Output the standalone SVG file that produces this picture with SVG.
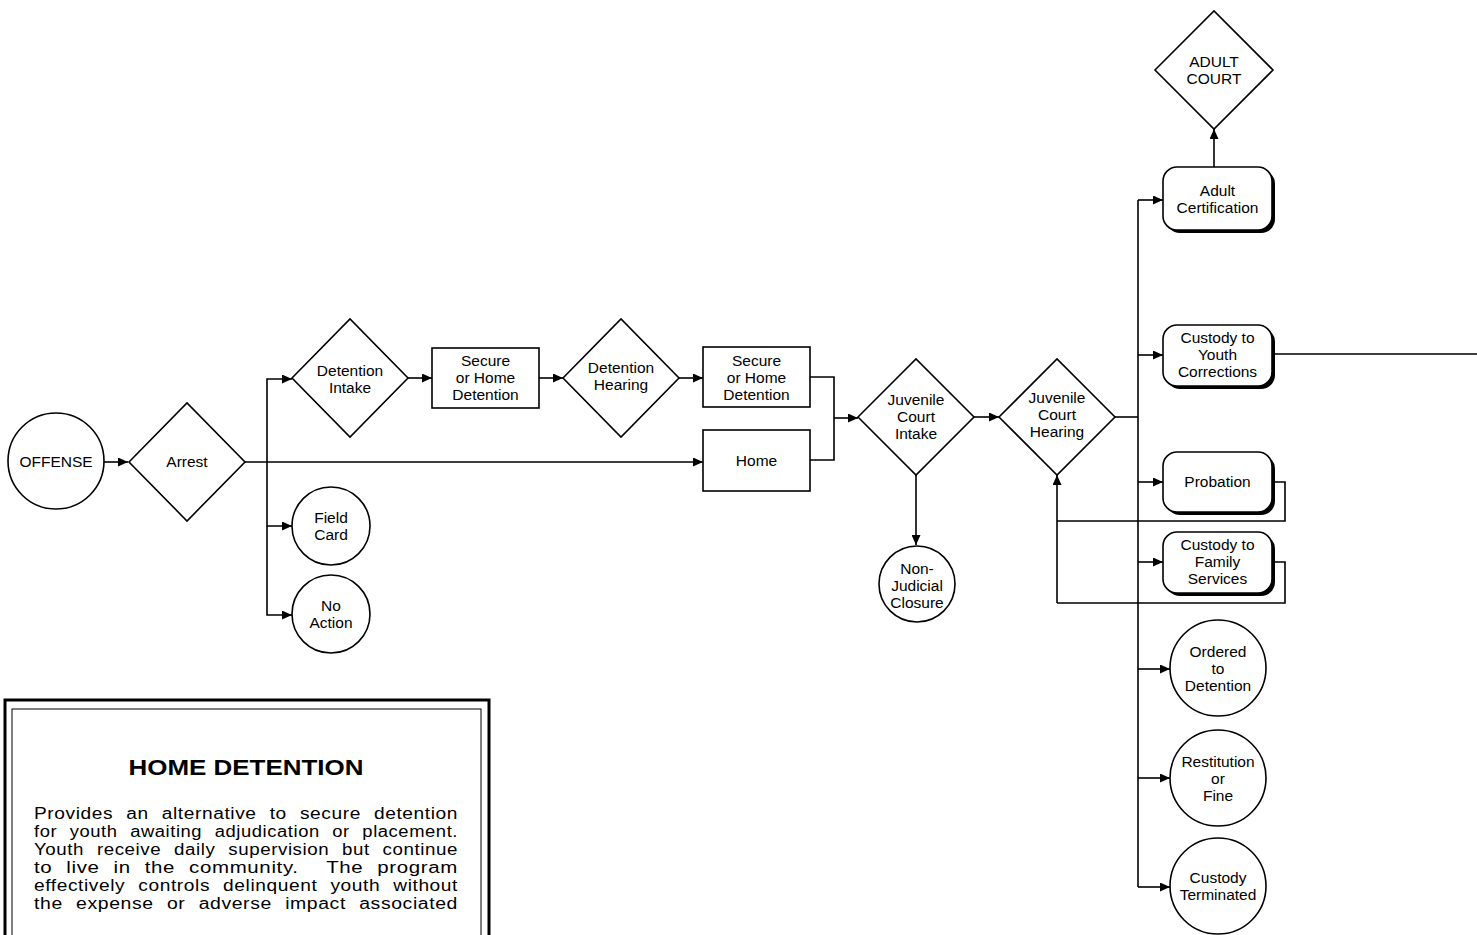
<svg xmlns="http://www.w3.org/2000/svg" width="1477" height="935" viewBox="0 0 1477 935">
<defs>
<marker id="ah" markerUnits="userSpaceOnUse" markerWidth="11" markerHeight="9" refX="10" refY="4.5" orient="auto">
<path d="M0,0 L10,4.5 L0,9 z" fill="#000"/>
</marker>
<style>
.shape{fill:#fff;stroke:#000;stroke-width:1.6}
.shadow{fill:#000;stroke:none}
.conn{fill:none;stroke:#000;stroke-width:1.6}
.arr{marker-end:url(#ah)}
text{font-family:"Liberation Sans",Arial,Helvetica,sans-serif;fill:#000}
.lbl{font-size:15.5px;text-anchor:middle}
.title{font-size:22px;font-weight:bold;text-anchor:middle}
.body{font-size:16px;letter-spacing:0.5px;word-spacing:6px}
</style>
</defs>
<rect width="1477" height="935" fill="#fff"/>

<g id="connectors">
<path class="conn arr" d="M104,462 H128"/>
<path class="conn arr" d="M245,462 H703"/>
<path class="conn arr" d="M267,462 V379 H292"/>
<path class="conn arr" d="M267,462 V526 H292"/>
<path class="conn arr" d="M267,526 V615 H292"/>
<path class="conn arr" d="M408,378 H432"/>
<path class="conn arr" d="M539,378 H563"/>
<path class="conn arr" d="M679,378 H703"/>
<path class="conn" d="M810,377 H834 V460 H810"/>
<path class="conn arr" d="M834,418 H858"/>
<path class="conn arr" d="M916,475 V545"/>
<path class="conn arr" d="M974,417 H999"/>
<path class="conn" d="M1115,417 H1138"/>
<path class="conn" d="M1138,200 V887"/>
<path class="conn arr" d="M1138,200 H1163"/>
<path class="conn arr" d="M1138,355 H1163"/>
<path class="conn arr" d="M1138,482 H1163"/>
<path class="conn arr" d="M1138,562 H1163"/>
<path class="conn arr" d="M1138,669 H1170"/>
<path class="conn arr" d="M1138,778 H1170"/>
<path class="conn arr" d="M1138,887 H1170"/>
<path class="conn arr" d="M1214,167 V129"/>
<path class="conn" d="M1275,354 H1477"/>
<path class="conn" d="M1275,482 H1285 V521 H1057"/>
<path class="conn" d="M1275,562 H1285 V603 H1057"/>
<path class="conn arr" d="M1057,603 V475"/>
</g>

<g id="offense">
<circle class="shape" cx="56" cy="461" r="48"/>
<text class="lbl" x="56" y="467">OFFENSE</text>
</g>
<g id="arrest">
<polygon class="shape" points="129,462 187,403 245,462 187,521"/>
<text class="lbl" x="187" y="467">Arrest</text>
</g>
<g id="detention-intake">
<polygon class="shape" points="292,378 350,319 408,378 350,437"/>
<text class="lbl" x="350" y="376">Detention</text>
<text class="lbl" x="350" y="393">Intake</text>
</g>
<g id="field-card">
<circle class="shape" cx="331" cy="526" r="39"/>
<text class="lbl" x="331" y="523">Field</text>
<text class="lbl" x="331" y="540">Card</text>
</g>
<g id="no-action">
<circle class="shape" cx="331" cy="614" r="39"/>
<text class="lbl" x="331" y="611">No</text>
<text class="lbl" x="331" y="628">Action</text>
</g>
<g id="secure-home-detention-1">
<rect class="shape" x="432" y="348" width="107" height="60"/>
<text class="lbl" x="485.5" y="366">Secure</text>
<text class="lbl" x="485.5" y="383">or Home</text>
<text class="lbl" x="485.5" y="400">Detention</text>
</g>
<g id="detention-hearing">
<polygon class="shape" points="563,378 621,319 679,378 621,437"/>
<text class="lbl" x="621" y="373">Detention</text>
<text class="lbl" x="621" y="390">Hearing</text>
</g>
<g id="secure-home-detention-2">
<rect class="shape" x="703" y="347" width="107" height="60"/>
<text class="lbl" x="756.5" y="366">Secure</text>
<text class="lbl" x="756.5" y="383">or Home</text>
<text class="lbl" x="756.5" y="400">Detention</text>
</g>
<g id="home">
<rect class="shape" x="703" y="430" width="107" height="61"/>
<text class="lbl" x="756.5" y="466">Home</text>
</g>
<g id="juvenile-court-intake">
<polygon class="shape" points="858,417 916,359 974,417 916,475"/>
<text class="lbl" x="916" y="405">Juvenile</text>
<text class="lbl" x="916" y="422">Court</text>
<text class="lbl" x="916" y="439">Intake</text>
</g>
<g id="non-judicial-closure">
<circle class="shape" cx="917" cy="584" r="38"/>
<text class="lbl" x="917" y="574">Non-</text>
<text class="lbl" x="917" y="591">Judicial</text>
<text class="lbl" x="917" y="608">Closure</text>
</g>
<g id="juvenile-court-hearing">
<polygon class="shape" points="999,417 1057,359 1115,417 1057,475"/>
<text class="lbl" x="1057" y="403">Juvenile</text>
<text class="lbl" x="1057" y="420">Court</text>
<text class="lbl" x="1057" y="437">Hearing</text>
</g>
<g id="adult-court">
<polygon class="shape" points="1155,70 1214,11 1273,70 1214,129"/>
<text class="lbl" x="1214" y="67">ADULT</text>
<text class="lbl" x="1214" y="84">COURT</text>
</g>
<g id="adult-certification">
<rect class="shadow" x="1166" y="170" width="109" height="63" rx="14"/>
<rect class="shape" x="1163" y="167" width="109" height="63" rx="14"/>
<text class="lbl" x="1217.5" y="196">Adult</text>
<text class="lbl" x="1217.5" y="213">Certification</text>
</g>
<g id="custody-youth-corrections">
<rect class="shadow" x="1166" y="328" width="109" height="61" rx="14"/>
<rect class="shape" x="1163" y="325" width="109" height="61" rx="14"/>
<text class="lbl" x="1217.5" y="343">Custody to</text>
<text class="lbl" x="1217.5" y="360">Youth</text>
<text class="lbl" x="1217.5" y="377">Corrections</text>
</g>
<g id="probation">
<rect class="shadow" x="1166" y="455" width="109" height="60" rx="14"/>
<rect class="shape" x="1163" y="452" width="109" height="60" rx="14"/>
<text class="lbl" x="1217.5" y="487">Probation</text>
</g>
<g id="custody-family-services">
<rect class="shadow" x="1166" y="535" width="109" height="61" rx="14"/>
<rect class="shape" x="1163" y="532" width="109" height="61" rx="14"/>
<text class="lbl" x="1217.5" y="550">Custody to</text>
<text class="lbl" x="1217.5" y="567">Family</text>
<text class="lbl" x="1217.5" y="584">Services</text>
</g>
<g id="ordered-to-detention">
<circle class="shape" cx="1218" cy="668" r="48"/>
<text class="lbl" x="1218" y="657">Ordered</text>
<text class="lbl" x="1218" y="674">to</text>
<text class="lbl" x="1218" y="691">Detention</text>
</g>
<g id="restitution-or-fine">
<circle class="shape" cx="1218" cy="778" r="48"/>
<text class="lbl" x="1218" y="767">Restitution</text>
<text class="lbl" x="1218" y="784">or</text>
<text class="lbl" x="1218" y="801">Fine</text>
</g>
<g id="custody-terminated">
<circle class="shape" cx="1218" cy="886" r="48"/>
<text class="lbl" x="1218" y="883">Custody</text>
<text class="lbl" x="1218" y="900">Terminated</text>
</g>

<g id="home-detention-note">
<rect x="5" y="700" width="484" height="260" fill="#fff" stroke="#000" stroke-width="3"/>
<rect x="12" y="709" width="469" height="250" fill="none" stroke="#000" stroke-width="1"/>
<text class="title" x="246" y="775" textLength="235" lengthAdjust="spacingAndGlyphs">HOME DETENTION</text>
<text class="body" x="34" y="819" textLength="424" lengthAdjust="spacingAndGlyphs">Provides an alternative to secure detention</text>
<text class="body" x="34" y="837" textLength="424" lengthAdjust="spacingAndGlyphs">for youth awaiting adjudication or placement.</text>
<text class="body" x="34" y="855" textLength="424" lengthAdjust="spacingAndGlyphs">Youth receive daily supervision but continue</text>
<text class="body" x="34" y="873" textLength="424" lengthAdjust="spacingAndGlyphs" word-spacing="16" xml:space="preserve">to live in the community.  The program</text>
<text class="body" x="34" y="891" textLength="424" lengthAdjust="spacingAndGlyphs">effectively controls delinquent youth without</text>
<text class="body" x="34" y="909" textLength="424" lengthAdjust="spacingAndGlyphs">the expense or adverse impact associated</text>
</g>
</svg>
